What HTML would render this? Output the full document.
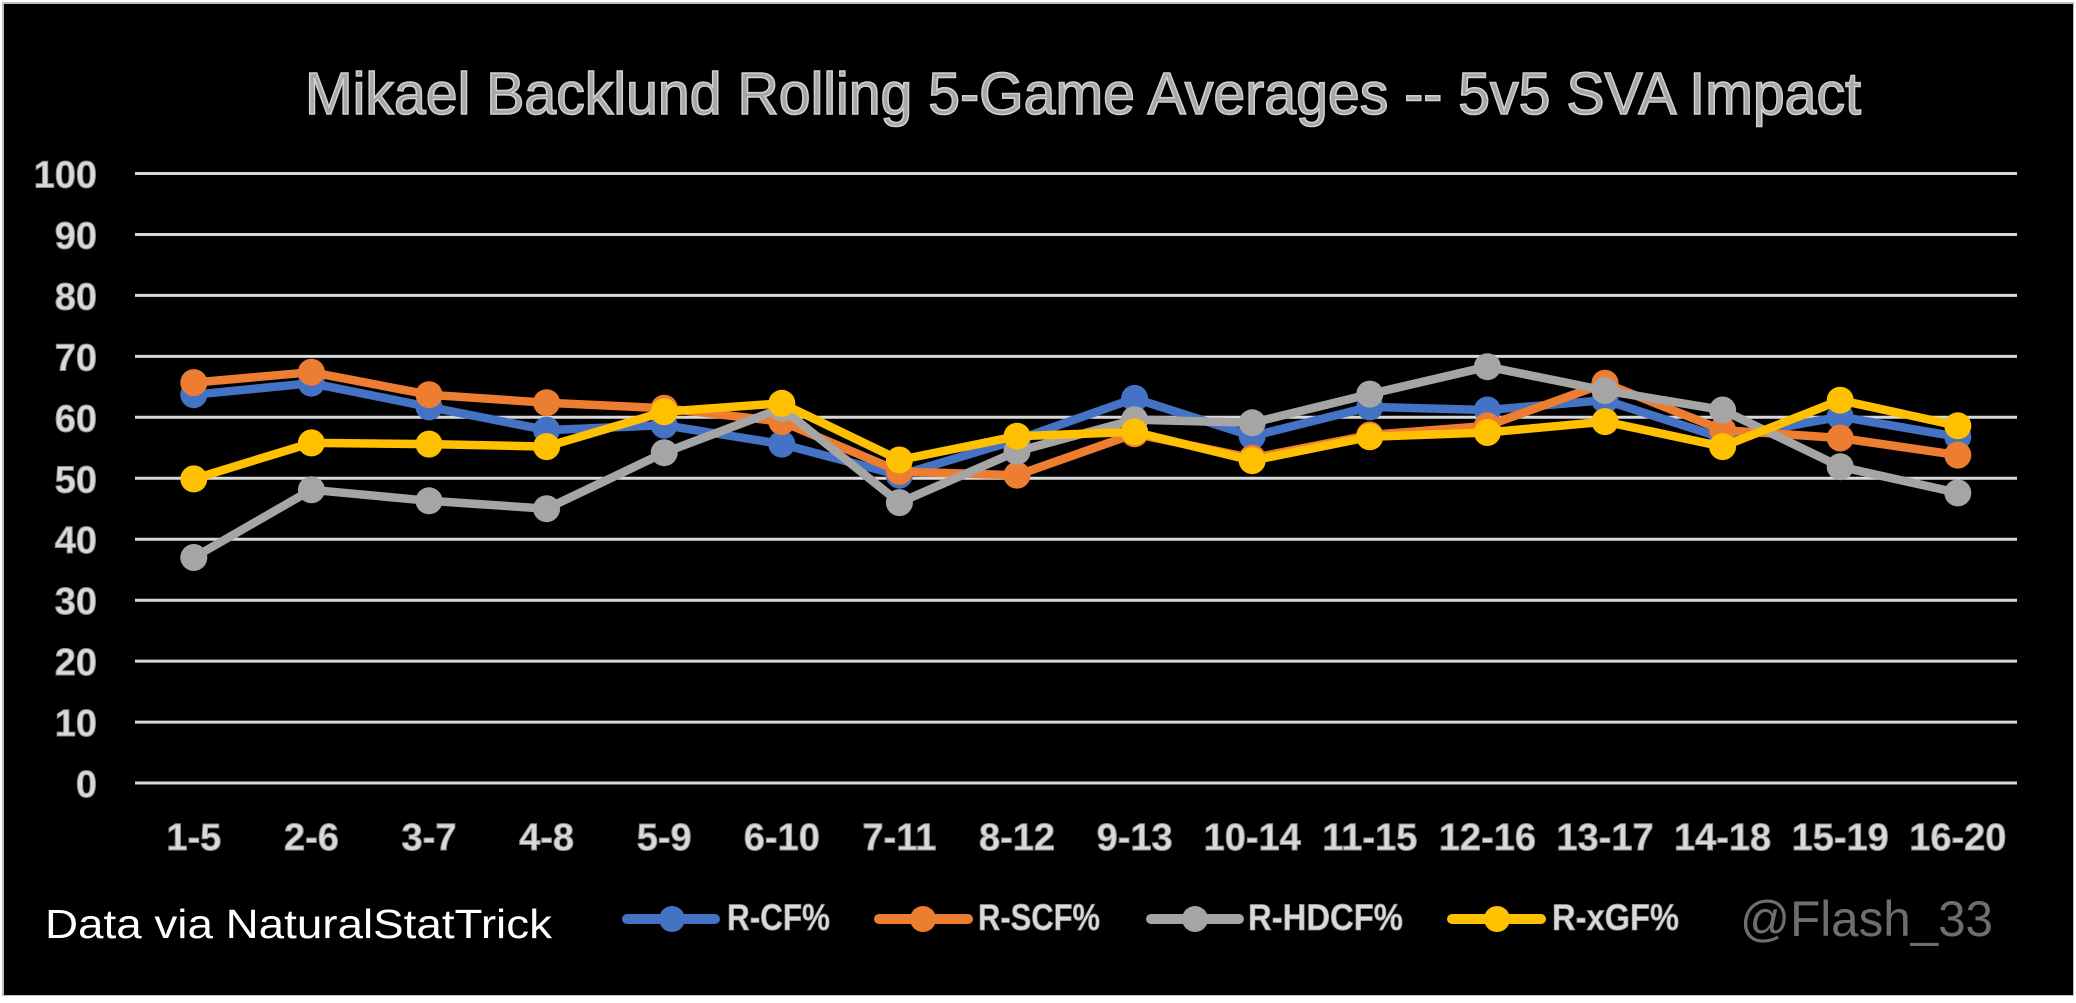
<!DOCTYPE html>
<html>
<head>
<meta charset="utf-8">
<style>
  html,body{margin:0;padding:0;background:#ffffff;}
  body{width:2076px;height:1003px;overflow:hidden;}
  svg{display:block;}
  .lab{font-family:"Liberation Sans",sans-serif;font-weight:bold;font-size:38px;fill:#d9d9d9;stroke:#8c8c8c;stroke-width:1;}
  .leg{font-family:"Liberation Sans",sans-serif;font-weight:bold;font-size:37px;fill:#d9d9d9;stroke:#8c8c8c;stroke-width:0.8;}
</style>
</head>
<body>
<svg width="2076" height="1003" viewBox="0 0 2076 1003" xmlns="http://www.w3.org/2000/svg">
  <rect x="0" y="0" width="2076" height="1003" fill="#ffffff"/>
  <rect x="2" y="2" width="2072" height="994" fill="#bfbfbf"/>
  <rect x="4" y="4" width="2069" height="991" fill="#000000"/>

  <!-- Title -->
  <text x="305" y="114" textLength="1556" lengthAdjust="spacingAndGlyphs" font-family="Liberation Sans, sans-serif" font-size="59" fill="#a6a6a6" stroke="#d0d0d0" stroke-width="1.6">Mikael Backlund Rolling 5-Game Averages -- 5v5 SVA Impact</text>

  <!-- Gridlines -->
  <g stroke="#d9d9d9" stroke-width="3">
    <line x1="135" y1="173.5" x2="2017" y2="173.5"/>
    <line x1="135" y1="234.5" x2="2017" y2="234.5"/>
    <line x1="135" y1="295.4" x2="2017" y2="295.4"/>
    <line x1="135" y1="356.4" x2="2017" y2="356.4"/>
    <line x1="135" y1="417.3" x2="2017" y2="417.3"/>
    <line x1="135" y1="478.3" x2="2017" y2="478.3"/>
    <line x1="135" y1="539.2" x2="2017" y2="539.2"/>
    <line x1="135" y1="600.2" x2="2017" y2="600.2"/>
    <line x1="135" y1="661.1" x2="2017" y2="661.1"/>
    <line x1="135" y1="722.1" x2="2017" y2="722.1"/>
    <line x1="135" y1="783" x2="2017" y2="783"/>
  </g>

  <!-- Y labels -->
  <g class="lab" text-anchor="end">
    <text x="97" y="187.5">100</text>
    <text x="97" y="248.5">90</text>
    <text x="97" y="309.4">80</text>
    <text x="97" y="370.4">70</text>
    <text x="97" y="431.3">60</text>
    <text x="97" y="492.3">50</text>
    <text x="97" y="553.2">40</text>
    <text x="97" y="614.2">30</text>
    <text x="97" y="675.1">20</text>
    <text x="97" y="736.1">10</text>
    <text x="97" y="797">0</text>
  </g>

  <!-- X labels -->
  <g class="lab" text-anchor="middle">
    <text x="193.8" y="850">1-5</text>
    <text x="311.4" y="850">2-6</text>
    <text x="429.0" y="850">3-7</text>
    <text x="546.6" y="850">4-8</text>
    <text x="664.2" y="850">5-9</text>
    <text x="781.8" y="850">6-10</text>
    <text x="899.4" y="850">7-11</text>
    <text x="1017.0" y="850">8-12</text>
    <text x="1134.6" y="850">9-13</text>
    <text x="1252.2" y="850">10-14</text>
    <text x="1369.8" y="850">11-15</text>
    <text x="1487.4" y="850">12-16</text>
    <text x="1605.0" y="850">13-17</text>
    <text x="1722.6" y="850">14-18</text>
    <text x="1840.2" y="850">15-19</text>
    <text x="1957.8" y="850">16-20</text>
  </g>

  <!-- Blue R-CF% -->
  <g fill="#4472C4">
    <polyline fill="none" stroke="#4472C4" stroke-width="8.5" stroke-linejoin="round" stroke-linecap="round"
      points="193.8,394.7 311.4,383.2 429.0,406.9 546.6,430.1 664.2,425.2 781.8,444.1 899.4,475.2 1017.0,439.9 1134.6,398.4 1252.2,436.2 1369.8,406.9 1487.4,410.0 1605.0,400.2 1722.6,438.0 1840.2,416.7 1957.8,436.8"/>
    <circle cx="193.8" cy="394.7" r="13.5"/><circle cx="311.4" cy="383.2" r="13.5"/><circle cx="429.0" cy="406.9" r="13.5"/><circle cx="546.6" cy="430.1" r="13.5"/>
    <circle cx="664.2" cy="425.2" r="13.5"/><circle cx="781.8" cy="444.1" r="13.5"/><circle cx="899.4" cy="475.2" r="13.5"/><circle cx="1017.0" cy="439.9" r="13.5"/>
    <circle cx="1134.6" cy="398.4" r="13.5"/><circle cx="1252.2" cy="436.2" r="13.5"/><circle cx="1369.8" cy="406.9" r="13.5"/><circle cx="1487.4" cy="410.0" r="13.5"/>
    <circle cx="1605.0" cy="400.2" r="13.5"/><circle cx="1722.6" cy="438.0" r="13.5"/><circle cx="1840.2" cy="416.7" r="13.5"/><circle cx="1957.8" cy="436.8" r="13.5"/>
  </g>

  <!-- Orange R-SCF% -->
  <g fill="#ED7D31">
    <polyline fill="none" stroke="#ED7D31" stroke-width="8.5" stroke-linejoin="round" stroke-linecap="round"
      points="193.8,382.6 311.4,372.2 429.0,394.7 546.6,402.7 664.2,408.2 781.8,421.6 899.4,471.5 1017.0,475.2 1134.6,433.8 1252.2,458.1 1369.8,435.0 1487.4,425.8 1605.0,383.2 1722.6,430.1 1840.2,438.0 1957.8,455.1"/>
    <circle cx="193.8" cy="382.6" r="13.5"/><circle cx="311.4" cy="372.2" r="13.5"/><circle cx="429.0" cy="394.7" r="13.5"/><circle cx="546.6" cy="402.7" r="13.5"/>
    <circle cx="664.2" cy="408.2" r="13.5"/><circle cx="781.8" cy="421.6" r="13.5"/><circle cx="899.4" cy="471.5" r="13.5"/><circle cx="1017.0" cy="475.2" r="13.5"/>
    <circle cx="1134.6" cy="433.8" r="13.5"/><circle cx="1252.2" cy="458.1" r="13.5"/><circle cx="1369.8" cy="435.0" r="13.5"/><circle cx="1487.4" cy="425.8" r="13.5"/>
    <circle cx="1605.0" cy="383.2" r="13.5"/><circle cx="1722.6" cy="430.1" r="13.5"/><circle cx="1840.2" cy="438.0" r="13.5"/><circle cx="1957.8" cy="455.1" r="13.5"/>
  </g>

  <!-- Gray R-HDCF% -->
  <g fill="#A5A5A5">
    <polyline fill="none" stroke="#A5A5A5" stroke-width="8.5" stroke-linejoin="round" stroke-linecap="round"
      points="193.8,557.5 311.4,489.8 429.0,500.8 546.6,508.7 664.2,452.7 781.8,408.2 899.4,502.6 1017.0,451.4 1134.6,419.7 1252.2,422.8 1369.8,394.1 1487.4,366.7 1605.0,390.5 1722.6,410.0 1840.2,466.7 1957.8,492.9"/>
    <circle cx="193.8" cy="557.5" r="13.5"/><circle cx="311.4" cy="489.8" r="13.5"/><circle cx="429.0" cy="500.8" r="13.5"/><circle cx="546.6" cy="508.7" r="13.5"/>
    <circle cx="664.2" cy="452.7" r="13.5"/><circle cx="781.8" cy="408.2" r="13.5"/><circle cx="899.4" cy="502.6" r="13.5"/><circle cx="1017.0" cy="451.4" r="13.5"/>
    <circle cx="1134.6" cy="419.7" r="13.5"/><circle cx="1252.2" cy="422.8" r="13.5"/><circle cx="1369.8" cy="394.1" r="13.5"/><circle cx="1487.4" cy="366.7" r="13.5"/>
    <circle cx="1605.0" cy="390.5" r="13.5"/><circle cx="1722.6" cy="410.0" r="13.5"/><circle cx="1840.2" cy="466.7" r="13.5"/><circle cx="1957.8" cy="492.9" r="13.5"/>
  </g>

  <!-- Yellow R-xGF% -->
  <g fill="#FFC000">
    <polyline fill="none" stroke="#FFC000" stroke-width="8.5" stroke-linejoin="round" stroke-linecap="round"
      points="193.8,478.9 311.4,442.9 429.0,444.1 546.6,446.6 664.2,411.8 781.8,403.3 899.4,460.0 1017.0,436.2 1134.6,431.9 1252.2,460.6 1369.8,436.8 1487.4,432.5 1605.0,421.6 1722.6,446.6 1840.2,400.2 1957.8,425.8"/>
    <circle cx="193.8" cy="478.9" r="13.5"/><circle cx="311.4" cy="442.9" r="13.5"/><circle cx="429.0" cy="444.1" r="13.5"/><circle cx="546.6" cy="446.6" r="13.5"/>
    <circle cx="664.2" cy="411.8" r="13.5"/><circle cx="781.8" cy="403.3" r="13.5"/><circle cx="899.4" cy="460.0" r="13.5"/><circle cx="1017.0" cy="436.2" r="13.5"/>
    <circle cx="1134.6" cy="431.9" r="13.5"/><circle cx="1252.2" cy="460.6" r="13.5"/><circle cx="1369.8" cy="436.8" r="13.5"/><circle cx="1487.4" cy="432.5" r="13.5"/>
    <circle cx="1605.0" cy="421.6" r="13.5"/><circle cx="1722.6" cy="446.6" r="13.5"/><circle cx="1840.2" cy="400.2" r="13.5"/><circle cx="1957.8" cy="425.8" r="13.5"/>
  </g>

  <!-- Data source -->
  <text x="45" y="938" textLength="507" lengthAdjust="spacingAndGlyphs" font-family="Liberation Sans, sans-serif" font-size="41" fill="#ffffff">Data via NaturalStatTrick</text>

  <!-- Legend -->
  <g stroke-width="10" stroke-linecap="round">
    <line x1="627" y1="919" x2="715" y2="919" stroke="#4472C4"/>
    <line x1="879" y1="919" x2="968" y2="919" stroke="#ED7D31"/>
    <line x1="1151" y1="919" x2="1239" y2="919" stroke="#A5A5A5"/>
    <line x1="1452" y1="919" x2="1541" y2="919" stroke="#FFC000"/>
  </g>
  <circle cx="672" cy="919" r="13" fill="#4472C4"/>
  <circle cx="923" cy="919" r="13" fill="#ED7D31"/>
  <circle cx="1195" cy="919" r="13" fill="#A5A5A5"/>
  <circle cx="1497" cy="919" r="13" fill="#FFC000"/>
  <g class="leg">
    <text x="727" y="930" textLength="103" lengthAdjust="spacingAndGlyphs">R-CF%</text>
    <text x="978" y="930" textLength="122" lengthAdjust="spacingAndGlyphs">R-SCF%</text>
    <text x="1248" y="930" textLength="155" lengthAdjust="spacingAndGlyphs">R-HDCF%</text>
    <text x="1552" y="930" textLength="127" lengthAdjust="spacingAndGlyphs">R-xGF%</text>
  </g>

  <!-- Watermark -->
  <text x="1740" y="936" textLength="253" lengthAdjust="spacingAndGlyphs" font-family="Liberation Sans, sans-serif" font-size="50" fill="#6e6e6e">@Flash_33</text>
</svg>
</body>
</html>
